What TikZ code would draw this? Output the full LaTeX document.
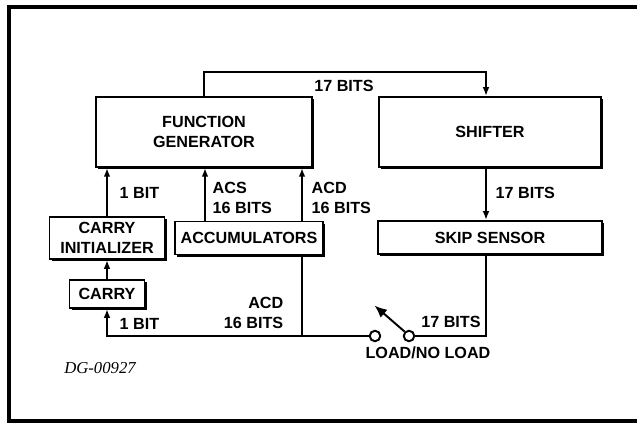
\documentclass[tikz,border=0pt]{standalone}
\usepackage{fontspec}
\setmainfont{Liberation Sans}
\newfontfamily\dgfont{Liberation Serif}
\usetikzlibrary{arrows.meta,positioning,shadows}

\begin{document}
\begin{tikzpicture}[
  font=\fontsize{9.2}{11.4}\selectfont\bfseries,
  >={Latex[length=5pt,width=3.8pt]},
  line width=1.1pt,
  blk/.style ={draw,rectangle,fill=white,align=center,line width=1.1pt,inner sep=1pt,
               drop shadow={shadow xshift=1.4pt,shadow yshift=-1.4pt,
                            fill=black,opacity=1}},
  lbl/.style ={align=left,inner sep=1pt},
  term/.style={draw,circle,fill=white,minimum size=0.21cm,inner sep=0pt,line width=1.1pt},
]

\useasboundingbox (0,0) rectangle (12.74,8.46);

%% =====================================================
%%  Frame
%% =====================================================
\draw[line width=1.8pt] (12.74,8.32) -- (0.18,8.32) -- (0.18,0.04) -- (12.74,0.04);

%% =====================================================
%%  Blocks
%% =====================================================
\node[blk,minimum width=4.32cm,minimum height=1.40cm] (fg)    at (4.08,5.82) {FUNCTION\\GENERATOR};
\node[blk,minimum width=4.44cm,minimum height=1.40cm] (shft)  at (9.80,5.82) {SHIFTER};
\node[blk,minimum width=4.48cm,minimum height=0.66cm] (skip)  at (9.80,3.71) {SKIP SENSOR};
\node[blk,minimum width=2.96cm,minimum height=0.66cm] (acc)   at (4.98,3.70) {ACCUMULATORS};
\node[blk,minimum width=2.30cm,minimum height=0.84cm] (cinit) at (2.14,3.70) {CARRY\\INITIALIZER};
\node[blk,minimum width=1.50cm,minimum height=0.56cm] (carry) at (2.14,2.58) {CARRY};

% load switch
\node[term] (swa) at (7.50,1.74) {};
\node[term] (swb) at (8.18,1.74) {};

%% =====================================================
%%  Connectors
%% =====================================================
\draw[->] (fg.north) -- ++(0,0.48) -| ([xshift=-0.08cm]shft.north);
\draw[->] ([xshift=-0.08cm]shft.south) -- ([xshift=-0.08cm]skip.north);
\draw ([xshift=-0.08cm]skip.south) |- (swb.east);
\draw[-{Latex[length=7pt,width=6pt]}] (swb.north west) -- ++(-0.60,0.52);
\draw[->] (swa.west) -| (carry.south);
\draw ([xshift=1.06cm]acc.south) -- ([xshift=1.06cm]acc.south |- swa.west);

\draw[->] (carry.north) -- (cinit.south);
\draw[->] (cinit.north) -- (cinit.north |- fg.south);
\draw[->] ([xshift=-0.88cm]acc.north) -- ([xshift=-0.88cm]acc.north |- fg.south);
\draw[->] ([xshift=1.06cm]acc.north) -- ([xshift=1.06cm]acc.north |- fg.south);

%% =====================================================
%%  Labels
%% =====================================================
\node[lbl] (l17top) at (6.88,6.74) {17 BITS};
\node[lbl,anchor=west] (l17shf) at (9.86,4.60) {17 BITS};
\node[lbl,anchor=west] (l1up)   at (2.34,4.60) {1 BIT};
\node[lbl,anchor=west] (lacs)   at (4.20,4.50) {ACS\\16 BITS};
\node[lbl,anchor=west] (lacdup) at (6.18,4.50) {ACD\\16 BITS};
\node[lbl,anchor=west] (l1dn)   at (2.34,1.98) {1 BIT};
\node[lbl,anchor=east,align=right] (lacddn) at (5.72,2.20) {ACD\\16 BITS};
\node[lbl] (l17dn) at (9.02,2.02) {17 BITS};
\node[lbl] (lload) at (8.56,1.40) {LOAD/NO LOAD};

\node[font=\dgfont\itshape\fontsize{9.5}{11}\selectfont] (dg) at (2.00,1.10) {DG-00927};

\end{tikzpicture}
\end{document}
